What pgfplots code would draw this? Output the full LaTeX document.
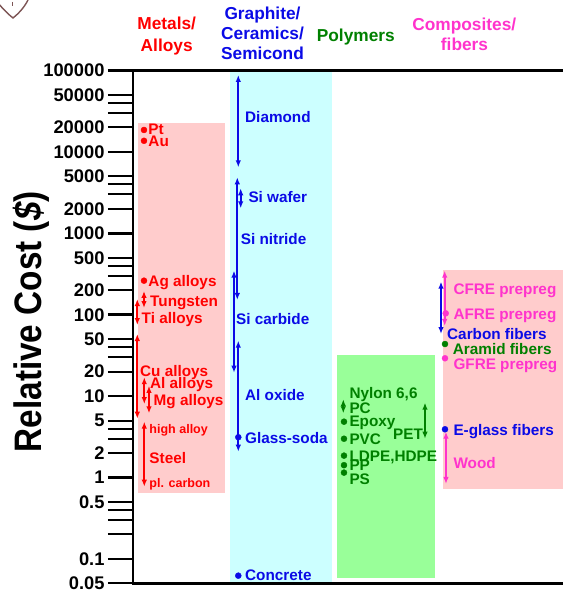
\documentclass[border=0pt]{standalone}
\usepackage{fontspec}
\setmainfont{Liberation Sans}
\usepackage{pgfplots}
\pgfplotsset{compat=1.18}
\usetikzlibrary{arrows.meta}
\definecolor{mred}{RGB}{255,0,0}
\definecolor{mblue}{RGB}{10,10,230}
\definecolor{mgreen}{RGB}{0,128,0}
\definecolor{mmag}{RGB}{255,51,204}
\definecolor{bpink}{RGB}{255,204,204}
\definecolor{bcyan}{RGB}{204,255,255}
\definecolor{bgreen}{RGB}{153,255,153}
\definecolor{logo}{RGB}{125,85,85}
\newcommand{\LF}{\fontsize{15.3}{18}\selectfont\bfseries}
\newcommand{\SF}{\fontsize{12.5}{15}\selectfont\bfseries}
\newcommand{\TF}{\fontsize{17.3}{20}\selectfont\bfseries}
\newcommand{\lab}[4]{\node[anchor=base west,inner sep=0pt,text=#1,font=\LF] at (#2,{#3+5.5}) {#4};}
\newcommand{\slab}[4]{\node[anchor=base west,inner sep=0pt,text=#1,font=\SF] at (#2,{#3+4.5}) {#4};}
\newcommand{\ttl}[4]{\node[anchor=base,inner sep=0pt,text=#1,font=\TF] at (#2,{#3+6.2}) {#4};}
\tikzset{rng/.style={line width=1.9pt,{Latex[length=7pt,width=5.5pt]}-{Latex[length=7pt,width=5.5pt]}}}
\pgfplotsset{dot/.style={only marks,mark=*,mark size=3pt}}
\begin{document}
\begin{tikzpicture}
\begin{axis}[
  scale only axis, width=430pt, height=513pt,
  xmin=133, xmax=563, ymode=log, ymin=0.05, ymax=100000,
  axis line style={draw=none},
  xtick=\empty,
  ytick={0.1,1,10,100,1000,10000,100000},
  yticklabels={0.1,1,10,100,1000,10000,100000},
  extra y ticks={0.05,0.5,5,50,500,5000,50000,2,20,200,2000,20000},
  extra y tick labels={0.05,0.5,5,50,500,5000,50000,2,20,200,2000,20000},
  minor ytick={0.2,0.3,0.4,3,4,30,40,300,400,3000,4000,30000,40000},
  tick align=outside, ytick pos=left,
  major tick length=25pt, minor tick length=25pt,
  every major tick/.append style={line width=2.6pt,black},
  every minor tick/.append style={line width=2pt,black},
  every extra y tick/.append style={major tick style={line width=2pt,black}},
  yticklabel style={font=\fontsize{18.3}{20}\selectfont\bfseries},
  clip=false,
]
% background boxes
\addplot[fill=bpink,draw=none] coordinates {(138,0.647) (225,0.647) (225,22650) (138,22650)} -- cycle;
\addplot[fill=bcyan,draw=none] coordinates {(230,0.05) (332,0.05) (332,100000) (230,100000)} -- cycle;
\addplot[fill=bgreen,draw=none] coordinates {(337,0.0585) (435,0.0585) (435,32) (337,32)} -- cycle;
\addplot[fill=bpink,draw=none] coordinates {(443,0.724) (563,0.724) (563,355) (443,355)} -- cycle;
% metals
\addplot[mred,dot] coordinates {(144,18600) (144,13700) (144,262)};
\addplot[mred,rng] coordinates {(144,121) (144,196)};
\addplot[mred,rng] coordinates {(137.3,74.8) (137.3,156)};
\addplot[mred,rng] coordinates {(137.3,5.29) (137.3,58)};
\addplot[mred,rng] coordinates {(144.3,8.0) (144.3,17.1)};
\addplot[mred,rng] coordinates {(149,6.16) (149,13.4)};
\addplot[mred,rng] coordinates {(144.3,0.773) (144.3,4.86)};
% ceramics
\addplot[mblue,rng] coordinates {(238.3,6470) (238.3,88100)};
\addplot[mblue,rng] coordinates {(240.7,2030) (240.7,3575)};
\addplot[mblue,rng] coordinates {(237.3,152) (237.3,4880)};
\addplot[mblue,rng] coordinates {(234,19.4) (234,348)};
\addplot[mblue,rng] coordinates {(238.3,2.08) (238.3,48)};
\addplot[mblue,dot] coordinates {(238.3,3.13) (238.3,0.0624)};
% polymers
\addplot[mgreen,rng] coordinates {(343.3,6.16) (343.3,9.16)};
\addplot[mgreen,dot] coordinates {(344,4.86) (344,3.0) (344,1.86) (344,1.42) (344,1.15)};
\addplot[mgreen,rng] coordinates {(425,3.0) (425,8.32)};
% composites
\addplot[mmag,rng] coordinates {(444.7,72.8) (444.7,348)};
\addplot[mblue,rng] coordinates {(441,58) (441,255)};
\addplot[mmag,dot] coordinates {(445.7,104) (445,29.2)};
\addplot[mgreen,dot] coordinates {(445,43.7)};
\addplot[mblue,dot] coordinates {(445,3.92)};
\addplot[mmag,rng] coordinates {(446,0.834) (446,3.66)};
\coordinate (P0) at (rel axis cs:-0.309302,1.137427);
\end{axis}
\pgfresetboundingbox
\begin{scope}[shift={(P0)},x=1pt,y=-1pt]
\path[use as bounding box] (0,0) rectangle (563,592);
\draw[line width=2.2pt] (133,70.5) -- (563,70.5);
\draw[line width=2.2pt] (133,69.4) -- (133,584.6);
\draw[line width=2.2pt] (132,583.5) -- (563,583.5);
% logo fragment
\draw[logo,line width=1.4pt] (-2,3) .. controls (4,10) and (8,14) .. (13,18) .. controls (18,14) and (24,8) .. (28,0);
\draw[logo,line width=1pt] (13,2) -- (13,6);
% y label
\node[rotate=90,anchor=base,inner sep=0pt] at (42,321.7) {\scalebox{1}[1.15]{\fontsize{33.3}{36}\selectfont\bfseries Relative Cost (\textit{\$})}};
% titles
\ttl{mred}{166.7}{23.3}{Metals/}
\ttl{mred}{166.7}{45}{Alloys}
\ttl{mblue}{262.5}{13.2}{Graphite/}
\ttl{mblue}{262.5}{33.8}{Ceramics/}
\ttl{mblue}{262.5}{53.5}{Semicond}
\ttl{mgreen}{355.8}{35}{Polymers}
\ttl{mmag}{464.3}{24.2}{Composites/}
\ttl{mmag}{464.5}{44.8}{fibers}
% metal labels
\lab{mred}{148.3}{129.5}{Pt}
\lab{mred}{148.3}{141}{Au}
\lab{mred}{148.3}{281.5}{Ag alloys}
\lab{mred}{150}{300.8}{Tungsten}
\lab{mred}{141.5}{318}{Ti alloys}
\lab{mred}{140}{371}{Cu alloys}
\lab{mred}{150}{383}{Al alloys}
\lab{mred}{153.5}{400.3}{Mg alloys}
\slab{mred}{149.3}{428.8}{high alloy}
\lab{mred}{149.3}{457.8}{Steel}
\slab{mred}{149.3}{483.5}{pl. carbon}
% ceramic labels
\lab{mblue}{245}{117.3}{Diamond}
\lab{mblue}{248.3}{197.3}{Si wafer}
\lab{mblue}{240.7}{239.3}{Si nitride}
\lab{mblue}{236}{319.5}{Si carbide}
\lab{mblue}{245}{395}{Al oxide}
\lab{mblue}{245}{438.5}{Glass-soda}
\lab{mblue}{245}{575}{Concrete}
% polymer labels
\lab{mgreen}{349.3}{393.5}{Nylon 6,6}
\lab{mgreen}{349.3}{408}{PC}
\lab{mgreen}{349.3}{421}{Epoxy}
\lab{mgreen}{349.3}{439}{PVC}
\lab{mgreen}{393}{434.5}{PET}
\lab{mgreen}{349.3}{456}{LDPE,HDPE}
\lab{mgreen}{349.3}{465.5}{PP}
\lab{mgreen}{349.3}{479.3}{PS}
% composite labels
\lab{mmag}{453.3}{289.5}{CFRE prepreg}
\lab{mmag}{453.3}{313.8}{AFRE prepreg}
\lab{mblue}{447}{334.5}{Carbon fibers}
\lab{mgreen}{452.7}{349.5}{Aramid fibers}
\lab{mmag}{453.3}{363.8}{GFRE prepreg}
\lab{mblue}{453.3}{429.7}{E-glass fibers}
\lab{mmag}{453.3}{462.8}{Wood}
\end{scope}
\end{tikzpicture}
\end{document}
